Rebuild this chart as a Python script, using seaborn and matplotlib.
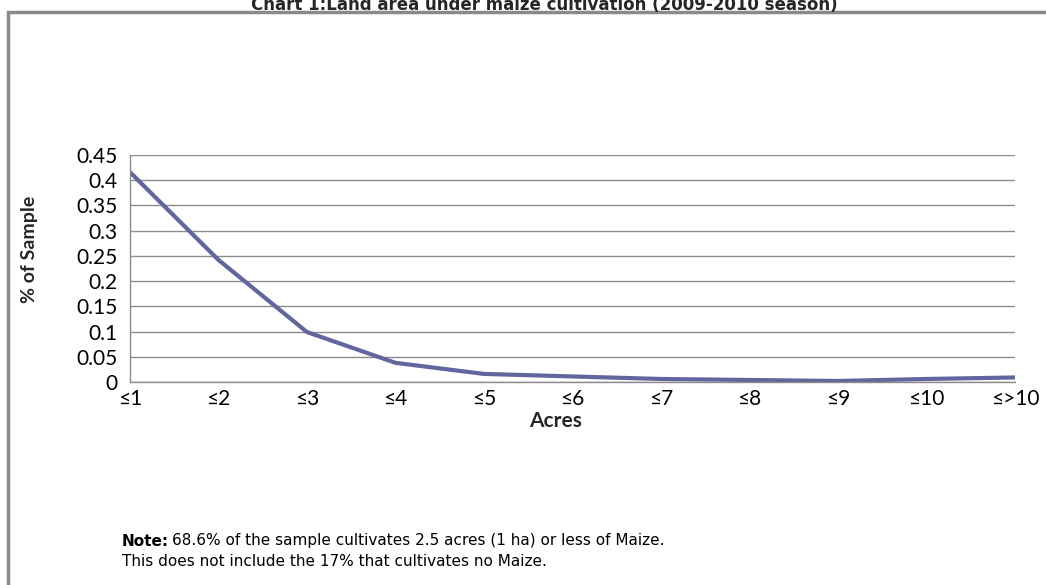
import seaborn as sns
import pandas as pd
import matplotlib.pyplot as plt
from matplotlib.patches import Rectangle

# data
acres = ['≤1', '≤2', '≤3', '≤4', '≤5', '≤6', '≤7', '≤8', '≤9', '≤10', '≤>10']
share = [0.416, 0.242, 0.099, 0.038, 0.016, 0.011, 0.006, 0.004, 0.002, 0.006, 0.009]
yticks = [0, 0.05, 0.1, 0.15, 0.2, 0.25, 0.3, 0.35, 0.4, 0.45]
ytick_labels = ['0', '0.05', '0.1', '0.15', '0.2', '0.25', '0.3', '0.35', '0.4', '0.45']

df = pd.DataFrame({'Acres': acres, 'share': share})

sns.set_style('white')
plt.rcParams['font.family'] = ['Lato', 'DejaVu Sans']

W, H = 1046, 585
fig = plt.figure(figsize=(W / 100, H / 100), dpi=100)
ax = fig.add_axes([130 / W, 1 - 382 / H, 885 / W, 227 / H])

sns.lineplot(data=df, x='Acres', y='share', sort=False, color='#62669e',
             linewidth=3.0, ax=ax)

ax.set_xlim(0, len(acres) - 1)
ax.set_ylim(0, 0.45)
ax.set_yticks(yticks)
ax.set_yticklabels(ytick_labels)
ax.set_xticks(range(len(acres)))
ax.set_xticklabels(acres)
ax.yaxis.grid(True, color='#8c8c8c', linewidth=1)
ax.set_axisbelow(True)

for s in ['top', 'right']:
    ax.spines[s].set_visible(False)
for s in ['left', 'bottom']:
    ax.spines[s].set_color('#8c8c8c')
    ax.spines[s].set_linewidth(1)

ax.tick_params(axis='both', which='major', labelsize=15, length=5.8, width=1,
               color='#8c8c8c', labelcolor='black', direction='out')
ax.tick_params(axis='x', pad=-1)
ax.tick_params(axis='y', pad=3)

# axis titles
ax.set_xlabel('Acres', fontsize=15, fontweight='bold')
ax.xaxis.set_label_coords((556 - 130) / 885, (382 - 421) / 227)
ax.xaxis.label.set_va('center')
ax.set_ylabel('% of Sample', fontsize=14, fontweight='bold')
ax.yaxis.set_label_coords((30 - 130) / 885, (382 - 249) / 227)
ax.yaxis.label.set_va('center')

# outer chart border
fig.patches.append(Rectangle((8 / W, -0.05), 1.1, 1 - 12 / H + 0.05,
                             transform=fig.transFigure, fill=False,
                             edgecolor='#8a8a8a', linewidth=2.5))

# title, cut at the top as in the original
fig.text(544 / W, 1 - 5 / H, 'Chart 1:Land area under maize cultivation (2009-2010 season)',
         ha='center', va='center', fontsize=12, fontweight='bold',
         family='DejaVu Sans')

# note
fig.text(122 / W, 1 - 541 / H, 'Note:', ha='left', va='center',
         fontsize=11, fontweight='bold', family='DejaVu Sans', color='black')
fig.text(172 / W, 1 - 541 / H,
         '68.6% of the sample cultivates 2.5 acres (1 ha) or less of Maize.',
         ha='left', va='center', fontsize=11, family='DejaVu Sans', color='black')
fig.text(122 / W, 1 - 561 / H,
         'This does not include the 17% that cultivates no Maize.',
         ha='left', va='center', fontsize=11, family='DejaVu Sans', color='black')

fig.savefig('out.png', dpi=100)
